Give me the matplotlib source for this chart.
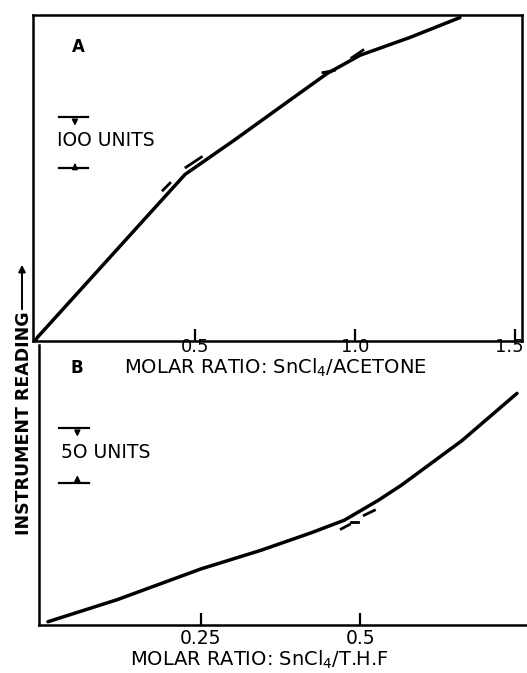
import matplotlib
matplotlib.use("Agg")
import matplotlib.pyplot as plt
from matplotlib.patches import FancyArrowPatch
from matplotlib.transforms import ScaledTranslation

# Panel A: SnCl4 / acetone
a_ratio = [0.0, 0.009, 0.469, 0.62, 0.766, 0.9125, 1.016, 1.172, 1.328]
a_reading = [0, 8, 327, 393, 459, 525, 561, 596, 635]
# small break marks drawn by hand on the original trace
a_marks_x = [[0.40, 0.422], [0.472, 0.52], [0.90, 0.935], [0.99, 1.025]]
a_marks_y = [[296, 310], [341, 361], [527, 531], [556, 571]]
a_ticks = [0.5, 1.0, 1.5]
a_ticklabels = ["0.5", "1.0", "1.5"]

# Panel B: SnCl4 / THF
b_ratio = [0.011, 0.119, 0.25, 0.344, 0.423, 0.475, 0.528, 0.564, 0.659, 0.745]
b_reading = [3, 23, 51, 68, 84, 95.5, 113.6, 127.3, 168, 211]
b_marks_x = [[0.470, 0.483], [0.486, 0.497], [0.506, 0.522]]
b_marks_y = [[87.5, 91.5], [93.6, 93.6], [100, 104.5]]
b_ticks = [0.25, 0.5]
b_ticklabels = ["0.25", "0.5"]

scale_a = 100
scale_b = 50

fig = plt.figure(figsize=(5.27, 6.73), dpi=100)
axA = fig.add_axes([0.0626, 0.4933, 0.928, 0.4844])
axB = fig.add_axes([0.074, 0.0713, 0.93, 0.416])

lw = 2.5
# ---- A
axA.plot(a_ratio, a_reading, color="black", lw=lw, solid_capstyle="round")
for mx, my in zip(a_marks_x, a_marks_y):
    axA.plot(mx, my, color="black", lw=2.0)
axA.set_xlim(-0.006, 1.522)
axA.set_ylim(0, 640)
axA.set_yticks([])
axA.set_xticks(a_ticks)
axA.set_xticklabels(a_ticklabels, fontsize=13)
axA.tick_params(axis="x", direction="in", length=9, width=1.6, pad=-2)
# keep the last label (1.5) inside the picture
last = axA.get_xticklabels()[-1]
last.set_transform(last.get_transform() + ScaledTranslation(-6 / 100, 0, fig.dpi_scale_trans))
axA.set_xlabel("MOLAR RATIO: SnCl$_4$/ACETONE", fontsize=14)
axA.xaxis.set_label_coords(0.496, -0.048)
for s in axA.spines.values():
    s.set_linewidth(1.8)
axA.text(0.08, 0.885, "A", transform=axA.transAxes, fontsize=12, fontweight="bold")

# 100 units scale bar
y0, y1 = 339, 339 + scale_a
axA.plot([0.075, 0.166], [y1, y1], color="black", lw=1.6)
axA.plot([0.075, 0.166], [y0, y0], color="black", lw=1.6)
axA.annotate("", xy=(0.125, y1 - 22), xytext=(0.125, y1),
             arrowprops=dict(arrowstyle="-|>", color="black", lw=1.3, mutation_scale=8))
axA.annotate("", xy=(0.125, y0 + 16), xytext=(0.125, y0),
             arrowprops=dict(arrowstyle="-|>", color="black", lw=1.3, mutation_scale=8))
axA.text(0.07, (y0 + y1) / 2 + 4, "IOO UNITS", fontsize=13.5, va="center")

# ---- B
axB.plot(b_ratio, b_reading, color="black", lw=lw, solid_capstyle="round")
for mx, my in zip(b_marks_x, b_marks_y):
    axB.plot(mx, my, color="black", lw=2.0)
axB.set_xlim(-0.003, 0.764)
axB.set_ylim(0, 255)
axB.set_yticks([])
axB.set_xticks(b_ticks)
axB.set_xticklabels(b_ticklabels, fontsize=13.5)
axB.tick_params(axis="x", direction="in", length=9, width=1.6, pad=3)
axB.set_xlabel("MOLAR RATIO: SnCl$_4$/T.H.F", fontsize=14)
axB.xaxis.set_label_coords(0.45, -0.085)
axB.spines["top"].set_visible(False)
axB.spines["right"].set_visible(False)
for s in axB.spines.values():
    s.set_linewidth(1.8)
axB.patch.set_alpha(0)
fig.text(70 / 527, 1 - 368 / 673, "B", fontsize=12, fontweight="bold", va="center")

# 50 units scale bar
y0, y1 = 129, 129 + scale_b
axB.plot([0.028, 0.075], [y1, y1], color="black", lw=1.6)
axB.plot([0.028, 0.075], [y0, y0], color="black", lw=1.6)
axB.annotate("", xy=(0.057, y1 - 10), xytext=(0.057, y1),
             arrowprops=dict(arrowstyle="-|>", color="black", lw=1.3, mutation_scale=8))
axB.annotate("", xy=(0.057, y0 + 10), xytext=(0.057, y0),
             arrowprops=dict(arrowstyle="-|>", color="black", lw=1.3, mutation_scale=8))
axB.text(0.032, (y0 + y1) / 2 + 3, "5O UNITS", fontsize=13.5, va="center")

# shared y label with arrow
fig.text(24 / 527, 1 - 423 / 673, "INSTRUMENT READING", rotation=90, fontsize=12.5,
         fontweight="bold", va="center", ha="center")
fig.add_artist(FancyArrowPatch(
    (22 / 527, 1 - 312 / 673), (22 / 527, 1 - 262 / 673), transform=fig.transFigure,
    arrowstyle="-|>", mutation_scale=10, color="black", lw=1.4))

fig.savefig("out.png", dpi=100)
